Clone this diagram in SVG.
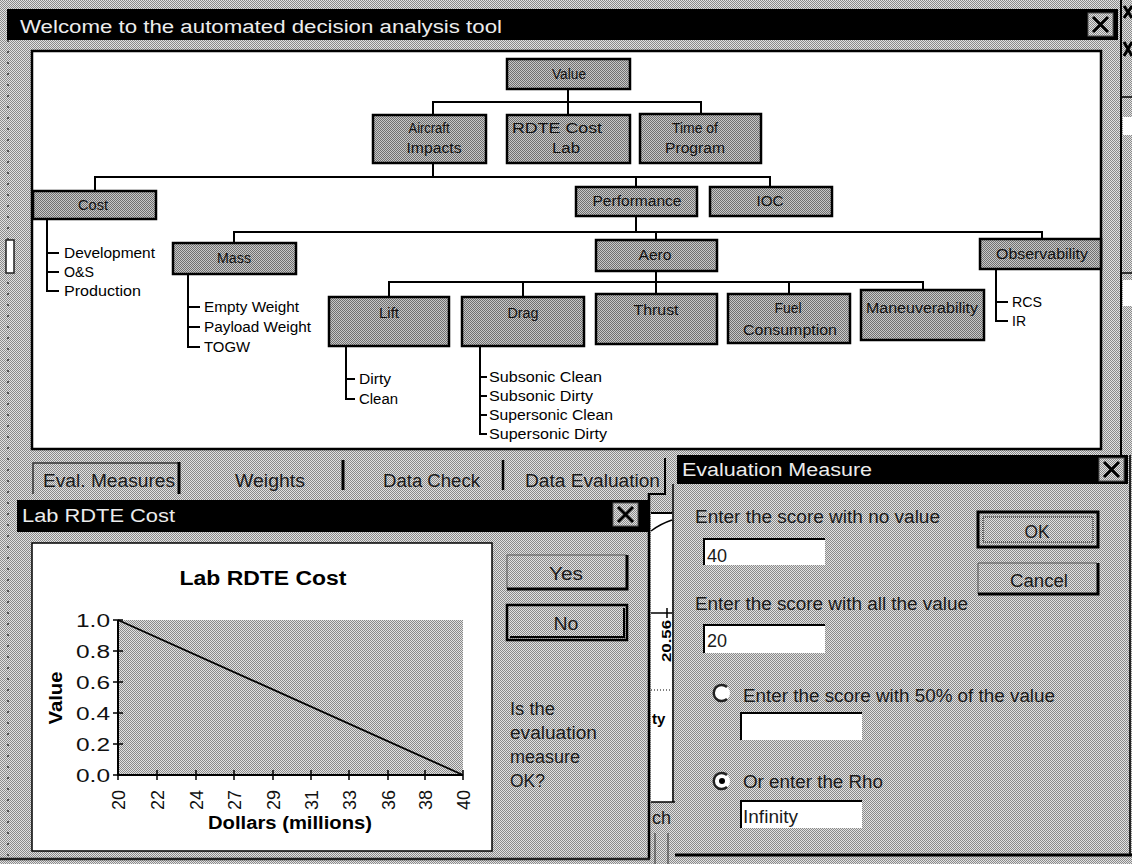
<svg xmlns="http://www.w3.org/2000/svg" width="1132" height="864" viewBox="0 0 1132 864">
<defs>
<pattern id="dith" width="2" height="2" patternUnits="userSpaceOnUse">
<rect width="2" height="2" fill="#e2e2e2"/>
<rect width="1" height="1" fill="#8a8a8a"/>
<rect x="1" y="1" width="1" height="1" fill="#8a8a8a"/>
</pattern>
<pattern id="dithDark" width="2" height="2" patternUnits="userSpaceOnUse">
<rect width="2" height="2" fill="#c8c8c8"/>
<rect width="1" height="1" fill="#707070"/>
<rect x="1" y="1" width="1" height="1" fill="#707070"/>
</pattern>
<style>
text{font-family:"Liberation Sans",Arial,sans-serif;fill:#000}
.node rect{fill:url(#dithDark);stroke:#000;stroke-width:2.5}
.node text{font-size:14px;text-anchor:middle;fill:#111}
.leaf{font-size:14px}
.conn{fill:none;stroke:#000;stroke-width:2}
.bar{fill:#000}
.ttext{font-size:18px;fill:#ececec}
.ui{font-size:18px;fill:#1a1a1a}
.xbtn{fill:url(#dith);stroke:#555;stroke-width:1}
.xglyph{stroke:#000;stroke-width:3;fill:none}
.tbox{fill:#fff}
.sunk{fill:none;stroke:#000;stroke-width:2}
.raise{fill:none;stroke:#000;stroke-width:3}
.ax{font-size:18px;fill:#111}
</style>
</defs>

<!-- desktop / window background -->
<rect x="0" y="0" width="1132" height="864" fill="url(#dith)"/>

<!-- left ruler -->
<g id="ruler">
<line x1="8" y1="40" x2="8" y2="860" stroke="#333" stroke-width="1.5" stroke-dasharray="2 9"/>
<rect x="6" y="240" width="8" height="33" fill="#fff" stroke="#222" stroke-width="1.5"/>
<rect x="7" y="9" width="5" height="31" fill="#000"/>
</g>

<!-- right edge of another window -->
<g id="right-strip">
<line x1="1121" y1="0" x2="1121" y2="455" stroke="#000" stroke-width="2"/>
<path d="M1124,6 L1132,18 M1132,6 L1124,18 M1124,42 L1132,56 M1132,42 L1124,56" class="xglyph" stroke-width="2.5"/>
<line x1="1122" y1="97" x2="1132" y2="97" stroke="#000" stroke-width="1.5"/>
<rect x="1123" y="117" width="9" height="18" fill="#fff"/>
<line x1="1122" y1="273" x2="1132" y2="273" stroke="#000" stroke-width="1.5"/>
<rect x="1123" y="280" width="9" height="26" fill="#fff"/>
</g>

<!-- main window -->
<g id="main-window">
<rect class="bar" x="12" y="9" width="1106" height="31"/>
<text class="ttext" x="20" y="33" textLength="482" lengthAdjust="spacingAndGlyphs">Welcome to the automated decision analysis tool</text>
<rect class="xbtn" x="1088" y="13" width="25" height="23"/>
<path class="xglyph" d="M1093,17 L1108,32 M1108,17 L1093,32"/>
<rect x="32" y="51" width="1069" height="398" fill="#fff" stroke="#000" stroke-width="2.5"/>
</g>

<!-- connectors -->
<g id="connectors" class="conn">
<path d="M568,89 V115 M433,115 V102 H701 V114"/>
<path d="M433,163 V177 M95,191 V177 H770 V187 M636,177 V187"/>
<path d="M636,216 V232 M234,243 V232 H1042 V239 M656,232 V240"/>
<path d="M656,271 V282 M389,297 V282 H923 V290 M523,282 V297 M656,282 V294 M789,282 V294"/>
<!-- leaf brackets -->
<path d="M47,219 V291 H59 M47,253 H59 M47,272 H59"/>
<path d="M188,274 V347 H200 M188,307 H200 M188,327 H200"/>
<path d="M346,346 V399 H355 M346,379 H355"/>
<path d="M480,346 V434 H487 M480,377 H487 M480,396 H487 M480,415 H487"/>
<path d="M996,269 V321 H1008 M996,302 H1008"/>
</g>

<!-- nodes -->
<g id="node-value" class="node"><rect x="507" y="59" width="123" height="30"/><text x="569" y="79" textLength="34" lengthAdjust="spacingAndGlyphs">Value</text></g>
<g id="node-aircraft" class="node"><rect x="373" y="115" width="113" height="48"/><text x="429" y="133" textLength="41" lengthAdjust="spacingAndGlyphs">Aircraft</text><text x="434" y="153" textLength="55" lengthAdjust="spacingAndGlyphs">Impacts</text></g>
<g id="node-rdte" class="node"><rect x="507" y="115" width="123" height="48"/><text x="557" y="133" textLength="90" lengthAdjust="spacingAndGlyphs">RDTE Cost</text><text x="566" y="153" textLength="28" lengthAdjust="spacingAndGlyphs">Lab</text></g>
<g id="node-time" class="node"><rect x="640" y="114" width="121" height="49"/><text x="695" y="133" textLength="46" lengthAdjust="spacingAndGlyphs">Time of</text><text x="695" y="153" textLength="60" lengthAdjust="spacingAndGlyphs">Program</text></g>
<g id="node-cost" class="node"><rect x="33" y="191" width="123" height="28"/><text x="93" y="210" textLength="30" lengthAdjust="spacingAndGlyphs">Cost</text></g>
<g id="node-performance" class="node"><rect x="576" y="187" width="121" height="29"/><text x="637" y="206" textLength="89" lengthAdjust="spacingAndGlyphs">Performance</text></g>
<g id="node-ioc" class="node"><rect x="710" y="187" width="122" height="29"/><text x="770" y="206" textLength="27" lengthAdjust="spacingAndGlyphs">IOC</text></g>
<g id="node-mass" class="node"><rect x="173" y="243" width="123" height="31"/><text x="234" y="263" textLength="34" lengthAdjust="spacingAndGlyphs">Mass</text></g>
<g id="node-aero" class="node"><rect x="596" y="240" width="121" height="31"/><text x="655" y="260" textLength="33" lengthAdjust="spacingAndGlyphs">Aero</text></g>
<g id="node-observability" class="node"><rect x="980" y="239" width="121" height="30"/><text x="1042" y="259" textLength="92" lengthAdjust="spacingAndGlyphs">Observability</text></g>
<g id="node-lift" class="node"><rect x="329" y="297" width="120" height="49"/><text x="389" y="318" textLength="20" lengthAdjust="spacingAndGlyphs">Lift</text></g>
<g id="node-drag" class="node"><rect x="462" y="297" width="122" height="49"/><text x="523" y="318" textLength="31" lengthAdjust="spacingAndGlyphs">Drag</text></g>
<g id="node-thrust" class="node"><rect x="596" y="294" width="121" height="50"/><text x="656" y="315" textLength="45" lengthAdjust="spacingAndGlyphs">Thrust</text></g>
<g id="node-fuel" class="node"><rect x="728" y="294" width="122" height="49"/><text x="788" y="313" textLength="27" lengthAdjust="spacingAndGlyphs">Fuel</text><text x="790" y="335" textLength="94" lengthAdjust="spacingAndGlyphs">Consumption</text></g>
<g id="node-maneuverability" class="node"><rect x="861" y="290" width="123" height="50"/><text x="922" y="313" textLength="112" lengthAdjust="spacingAndGlyphs">Maneuverability</text></g>

<!-- leaf labels -->
<g id="leaves">
<text class="leaf" x="64" y="258" textLength="91" lengthAdjust="spacingAndGlyphs">Development</text>
<text class="leaf" x="64" y="277" textLength="30" lengthAdjust="spacingAndGlyphs">O&amp;S</text>
<text class="leaf" x="64" y="296" textLength="77" lengthAdjust="spacingAndGlyphs">Production</text>
<text class="leaf" x="204" y="312" textLength="95" lengthAdjust="spacingAndGlyphs">Empty Weight</text>
<text class="leaf" x="204" y="332" textLength="107" lengthAdjust="spacingAndGlyphs">Payload Weight</text>
<text class="leaf" x="204" y="352" textLength="46" lengthAdjust="spacingAndGlyphs">TOGW</text>
<text class="leaf" x="359" y="384" textLength="32" lengthAdjust="spacingAndGlyphs">Dirty</text>
<text class="leaf" x="359" y="404" textLength="39" lengthAdjust="spacingAndGlyphs">Clean</text>
<text class="leaf" x="489" y="382" textLength="113" lengthAdjust="spacingAndGlyphs">Subsonic Clean</text>
<text class="leaf" x="489" y="401" textLength="104" lengthAdjust="spacingAndGlyphs">Subsonic Dirty</text>
<text class="leaf" x="489" y="420" textLength="124" lengthAdjust="spacingAndGlyphs">Supersonic Clean</text>
<text class="leaf" x="489" y="439" textLength="118" lengthAdjust="spacingAndGlyphs">Supersonic Dirty</text>
<text class="leaf" x="1012" y="307" textLength="30" lengthAdjust="spacingAndGlyphs">RCS</text>
<text class="leaf" x="1012" y="326">IR</text>
</g>

<!-- tab row -->
<g id="tabs">
<path d="M33,494 V463 H178" fill="none" stroke="#333" stroke-width="1.5"/>
<line x1="179" y1="462" x2="179" y2="494" stroke="#000" stroke-width="3"/>
<text class="ui" x="43" y="487" textLength="132" lengthAdjust="spacingAndGlyphs">Eval. Measures</text>
<text class="ui" x="235" y="487" textLength="70" lengthAdjust="spacingAndGlyphs">Weights</text>
<line x1="343" y1="460" x2="343" y2="490" stroke="#000" stroke-width="3"/>
<text class="ui" x="383" y="487" textLength="97" lengthAdjust="spacingAndGlyphs">Data Check</text>
<line x1="503" y1="460" x2="503" y2="490" stroke="#000" stroke-width="2.5"/>
<text class="ui" x="525" y="487" textLength="135" lengthAdjust="spacingAndGlyphs">Data Evaluation</text>
<path d="M649,494 H665 V458" fill="none" stroke="#000" stroke-width="2"/>
</g>

<!-- background window sliver -->
<g id="behind-window">
<rect x="651" y="513" width="21" height="289" fill="#fff"/>
<line x1="651" y1="513" x2="672" y2="513" stroke="#000" stroke-width="2"/>
<path d="M651,531 Q660,524 672,520" fill="none" stroke="#000" stroke-width="1.5"/>
<path d="M651,613 H672 M667,608 V618" stroke="#000" stroke-width="1.5" fill="none"/>
<text x="671" y="620" transform="rotate(-90 671 620)" text-anchor="end" font-size="12" font-weight="bold" textLength="42" lengthAdjust="spacingAndGlyphs">20.56</text>
<line x1="651" y1="690" x2="672" y2="690" stroke="#000" stroke-width="1" stroke-dasharray="1 2"/>
<text x="652" y="724" font-size="15" font-weight="bold">ty</text>
<line x1="651" y1="802" x2="675" y2="802" stroke="#000" stroke-width="1.5"/>
<text class="ui" x="652" y="824">ch</text>
<path d="M655,833 V864 M668,833 V864" stroke="#333" stroke-width="1" fill="none"/>
</g>

<!-- Lab RDTE Cost window -->
<g id="lab-window">
<rect class="bar" x="17" y="500" width="631" height="32"/>
<text class="ttext" x="22" y="522" textLength="153" lengthAdjust="spacingAndGlyphs">Lab RDTE Cost</text>
<rect class="xbtn" x="613" y="503" width="25" height="23"/>
<path class="xglyph" d="M618,507 L633,522 M633,507 L618,522"/>
<line x1="649" y1="493" x2="649" y2="859" stroke="#000" stroke-width="2.5"/>
<line x1="0" y1="859" x2="650" y2="859" stroke="#222" stroke-width="2.5"/>
<rect x="32" y="543" width="460" height="308" fill="#fff" stroke="#000" stroke-width="1.5"/>
</g>

<!-- chart -->
<g id="chart">
<text x="263" y="585" font-size="20" font-weight="bold" text-anchor="middle" textLength="167" lengthAdjust="spacingAndGlyphs">Lab RDTE Cost</text>
<rect x="118" y="620" width="345" height="155" fill="url(#dith)"/>
<path d="M118,620 V775 H463" fill="none" stroke="#000" stroke-width="2"/>
<path d="M113,620 H123 M113,651 H123 M113,682 H123 M113,713 H123 M113,744 H123 M113,775 H123" stroke="#000" stroke-width="1.5"/>
<path d="M118,770 V780 M157,770 V780 M196,770 V780 M234,770 V780 M273,770 V780 M311,770 V780 M349,770 V780 M388,770 V780 M425,770 V780 M463,770 V780" stroke="#000" stroke-width="1.5"/>
<path d="M118,620 L463,775" fill="none" stroke="#000" stroke-width="1.8"/>
<g text-anchor="end">
<text class="ax" x="110" y="627" textLength="34" lengthAdjust="spacingAndGlyphs">1.0</text>
<text class="ax" x="110" y="658" textLength="34" lengthAdjust="spacingAndGlyphs">0.8</text>
<text class="ax" x="110" y="689" textLength="34" lengthAdjust="spacingAndGlyphs">0.6</text>
<text class="ax" x="110" y="720" textLength="34" lengthAdjust="spacingAndGlyphs">0.4</text>
<text class="ax" x="110" y="751" textLength="34" lengthAdjust="spacingAndGlyphs">0.2</text>
<text class="ax" x="110" y="782" textLength="34" lengthAdjust="spacingAndGlyphs">0.0</text>
</g>
<g text-anchor="end">
<text class="ax" x="125" y="790" transform="rotate(-90 125 790)">20</text>
<text class="ax" x="164" y="790" transform="rotate(-90 164 790)">22</text>
<text class="ax" x="203" y="790" transform="rotate(-90 203 790)">24</text>
<text class="ax" x="241" y="790" transform="rotate(-90 241 790)">27</text>
<text class="ax" x="280" y="790" transform="rotate(-90 280 790)">29</text>
<text class="ax" x="318" y="790" transform="rotate(-90 318 790)">31</text>
<text class="ax" x="356" y="790" transform="rotate(-90 356 790)">33</text>
<text class="ax" x="395" y="790" transform="rotate(-90 395 790)">36</text>
<text class="ax" x="432" y="790" transform="rotate(-90 432 790)">38</text>
<text class="ax" x="470" y="790" transform="rotate(-90 470 790)">40</text>
</g>
<text x="62" y="698" transform="rotate(-90 62 698)" text-anchor="middle" font-size="19" font-weight="bold" textLength="53" lengthAdjust="spacingAndGlyphs">Value</text>
<text x="290" y="829" text-anchor="middle" font-size="18" font-weight="bold" textLength="164" lengthAdjust="spacingAndGlyphs">Dollars (millions)</text>
</g>

<!-- Yes / No buttons and question -->
<g id="btn-yes">
<path d="M507,589 V555 H626" fill="none" stroke="#555" stroke-width="1"/>
<path d="M507,589 H627 V555" class="raise"/>
<text class="ui" x="566" y="580" text-anchor="middle" textLength="34" lengthAdjust="spacingAndGlyphs">Yes</text>
</g>
<g id="btn-no">
<rect x="507" y="605" width="120" height="35" fill="none" stroke="#000" stroke-width="2.5"/>
<path d="M510,637 H624 V608" fill="none" stroke="#000" stroke-width="2"/>
<text class="ui" x="566" y="630" text-anchor="middle" textLength="25" lengthAdjust="spacingAndGlyphs">No</text>
</g>
<g id="question">
<text class="ui" x="510" y="715" textLength="45" lengthAdjust="spacingAndGlyphs">Is the</text>
<text class="ui" x="510" y="739" textLength="87" lengthAdjust="spacingAndGlyphs">evaluation</text>
<text class="ui" x="510" y="763" textLength="70" lengthAdjust="spacingAndGlyphs">measure</text>
<text class="ui" x="510" y="787" textLength="35" lengthAdjust="spacingAndGlyphs">OK?</text>
</g>

<!-- Evaluation Measure window -->
<g id="eval-window">
<line x1="673" y1="484" x2="673" y2="802" stroke="#000" stroke-width="1.5"/>
<rect class="bar" x="677" y="455" width="451" height="29"/>
<text class="ttext" x="682" y="476" textLength="190" lengthAdjust="spacingAndGlyphs">Evaluation Measure</text>
<rect class="xbtn" x="1099" y="458" width="25" height="23"/>
<path class="xglyph" d="M1104,462 L1119,477 M1119,462 L1104,477"/>
<line x1="1130" y1="455" x2="1130" y2="855" stroke="#222" stroke-width="2"/>
<line x1="675" y1="855" x2="1132" y2="855" stroke="#000" stroke-width="3"/>

<text class="ui" x="695" y="523" textLength="245" lengthAdjust="spacingAndGlyphs">Enter the score with no value</text>
<rect class="tbox" x="703" y="538" width="122" height="27"/>
<path class="sunk" d="M704,565 V539 H825"/>
<text class="ui" x="707" y="562" fill="#000">40</text>

<text class="ui" x="695" y="610" textLength="273" lengthAdjust="spacingAndGlyphs">Enter the score with all the value</text>
<rect class="tbox" x="703" y="624" width="122" height="29"/>
<path class="sunk" d="M704,653 V625 H825"/>
<text class="ui" x="707" y="647" fill="#000">20</text>

<circle cx="722" cy="693" r="8" fill="#fff"/>
<path d="M727,687 A8,8 0 1 0 727,699" fill="none" stroke="#222" stroke-width="2.5"/>
<text class="ui" x="743" y="702" textLength="312" lengthAdjust="spacingAndGlyphs">Enter the score with 50% of the value</text>
<rect class="tbox" x="740" y="712" width="122" height="28"/>
<path class="sunk" d="M741,740 V713 H862"/>

<circle cx="722" cy="781" r="8" fill="#fff"/>
<path d="M727,775 A8,8 0 1 0 727,787" fill="none" stroke="#222" stroke-width="2.5"/>
<circle cx="722" cy="781" r="3" fill="#000"/>
<text class="ui" x="743" y="788" textLength="140" lengthAdjust="spacingAndGlyphs">Or enter the Rho</text>
<rect class="tbox" x="740" y="800" width="122" height="28"/>
<path class="sunk" d="M741,828 V801 H862"/>
<text class="ui" x="743" y="823" fill="#000" textLength="55" lengthAdjust="spacingAndGlyphs">Infinity</text>
</g>
<g id="btn-ok">
<rect x="978" y="512" width="120" height="35" fill="none" stroke="#000" stroke-width="3"/>
<rect x="983" y="517" width="110" height="25" fill="none" stroke="#000" stroke-width="1" stroke-dasharray="1 1"/>
<text class="ui" x="1037" y="538" text-anchor="middle" textLength="25" lengthAdjust="spacingAndGlyphs">OK</text>
</g>
<g id="btn-cancel">
<path d="M978,594 V563 H1097" fill="none" stroke="#555" stroke-width="1"/>
<path d="M978,594 H1098 V563" class="raise"/>
<text class="ui" x="1039" y="587" text-anchor="middle" textLength="58" lengthAdjust="spacingAndGlyphs">Cancel</text>
</g>
</svg>
